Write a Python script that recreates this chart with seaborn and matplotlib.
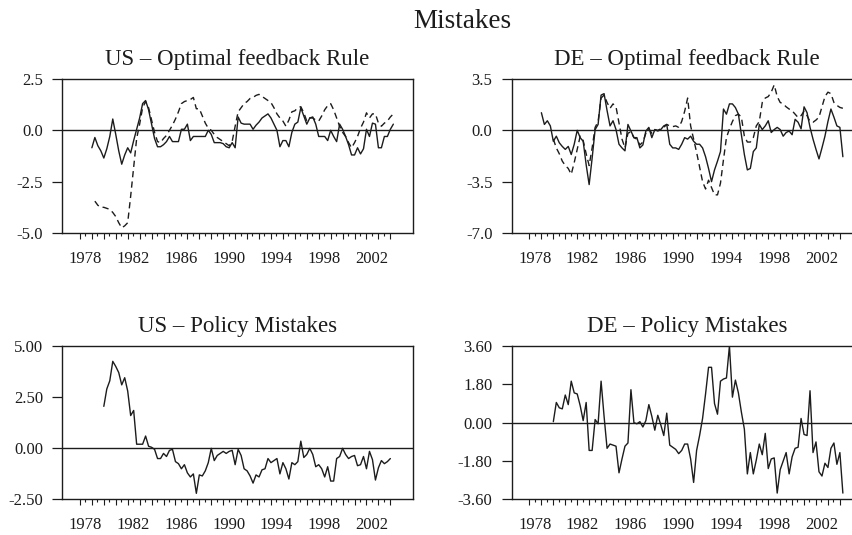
import numpy as np
import pandas as pd
import matplotlib
matplotlib.use("Agg")
import matplotlib.pyplot as plt
import seaborn as sns
from matplotlib.ticker import FixedLocator, FuncFormatter, NullFormatter

# ---------------- data (quarterly, decimal years) ----------------
us_rule_start = 1979.0
us_rule = [-0.85, -0.35, -0.75, -1.0,
           -1.35, -0.9, -0.3, 0.55,
           -0.2, -1.0, -1.65, -1.2,
           -0.85, -1.1, -0.5, 0.05,
           0.6, 1.3, 1.45, 1.0,
           0.3, -0.4, -0.8, -0.8,
           -0.7, -0.55, -0.3, -0.55,
           -0.55, -0.55, 0.05, 0.05,
           0.3, -0.5, -0.3, -0.3,
           -0.3, -0.3, -0.3, 0.0,
           -0.2, -0.6, -0.6, -0.6,
           -0.65, -0.8, -0.85, -0.6,
           -0.85, 0.65, 0.35, 0.3,
           0.3, 0.3, 0.05, 0.25,
           0.4, 0.6, 0.7, 0.8,
           0.6, 0.3, 0.0, -0.8,
           -0.5, -0.5, -0.8, -0.1,
           0.3, 0.4, 1.1, 0.7,
           0.3, 0.6, 0.65, 0.3,
           -0.3, -0.3, -0.3, -0.5,
           0.0, -0.3, -0.55, 0.3,
           0.05, -0.3, -0.7, -1.2,
           -1.2, -0.85, -1.15, -0.9,
           0.05, -0.3, 0.35, 0.3,
           -0.85, -0.85, -0.3, -0.3,
           0.05, 0.3]

us_opt_start = 1979.25
us_opt = [-3.45, -3.65, -3.75,
          -3.75, -3.8, -3.85, -4.0,
          -4.2, -4.5, -4.75, -4.65,
          -4.5, -3.2, -1.8, -0.4,
          0.3, 1.1, 1.4, 1.1,
          0.5, -0.1, -0.55, -0.6,
          -0.4, -0.25, 0.0, 0.25,
          0.55, 0.9, 1.3, 1.4,
          1.45, 1.5, 1.6, 1.05,
          1.05, 0.7, 0.35, 0.1,
          0.0, -0.2, -0.35, -0.45,
          -0.55, -0.65, -0.75, -0.55,
          0.2, 0.9, 1.1, 1.3,
          1.4, 1.55, 1.6, 1.7,
          1.75, 1.65, 1.55, 1.45,
          1.35, 1.1, 0.8, 0.6,
          0.45, 0.2, 0.5, 0.9,
          0.95, 1.1, 1.15, 0.85,
          0.45, 0.6, 0.6, 0.5,
          0.45, 0.7, 1.0, 1.2,
          1.3, 1.0, 0.6, 0.2,
          -0.1, -0.3, -0.6, -0.85,
          -0.6, -0.3, 0.1, 0.4,
          0.85, 0.6, 0.8, 0.8,
          0.35, 0.2, 0.35, 0.45,
          0.65, 0.8]

de_rule_start = 1979.0
de_rule = [1.2, 0.4, 0.65, 0.3,
           -0.75, -0.4, -0.85, -1.1,
           -1.3, -1.1, -1.65, -0.95,
           0.0, -0.5, -0.75, -2.35,
           -3.7, -1.9, 0.05, 0.4,
           2.4, 2.5, 1.35, 0.3,
           0.65, 0.05, -0.95, -1.2,
           -1.4, 0.4, -0.05, -0.5,
           -0.5, -1.2, -1.0, -0.05,
           0.2, -0.5, 0.05, -0.05,
           0.05, 0.3, 0.4, -0.95,
           -1.2, -1.2, -1.3, -0.95,
           -0.5, -0.6, -0.4, -0.75,
           -0.95, -0.95, -1.2, -1.8,
           -2.6, -3.5, -2.7, -2.1,
           -1.45, 1.45, 1.1, 1.8,
           1.8, 1.55, 1.1, -0.3,
           -1.65, -2.7, -2.6, -1.45,
           -1.2, 0.4, 0.05, 0.3,
           0.65, -0.15, 0.05, 0.2,
           0.05, -0.4, -0.15, -0.05,
           -0.3, 0.75, 0.55, 0.1,
           1.6, 1.2, 0.2, -0.6,
           -1.3, -1.95, -1.2, -0.4,
           0.6, 1.45, 0.9, 0.3,
           0.2, -1.8]

de_opt_start = 1980.0
de_opt = [-0.6, -1.2, -1.6, -2.1,
          -2.4, -2.6, -3.0, -2.2,
          -1.3, -0.4, -0.7, -1.6,
          -2.4, -1.2, 0.2, 0.6,
          2.2, 2.4, 1.9, 1.5,
          1.8, 1.6, 0.5, -0.6,
          -1.2, -0.2, -0.1, -0.5,
          -0.6, -1.0, -0.8, -0.2,
          0.1, -0.2, 0.05, 0.0,
          0.1, 0.2, 0.4, 0.3,
          0.25, 0.3, 0.2, 0.6,
          1.3, 2.2, 0.3, -0.6,
          -1.5, -2.5, -3.5, -4.0,
          -3.4, -3.9, -4.4, -4.4,
          -3.6, -2.0, -0.5, 0.1,
          0.6, 1.0, 1.1, 0.9,
          -0.4, -0.8, -0.8, -0.5,
          0.3, 0.6, 1.9, 2.2,
          2.3, 2.6, 3.1, 2.3,
          1.9, 1.8, 1.6, 1.45,
          1.33, 1.1, 0.87, 1.0,
          1.3, 1.0, 0.6, 0.55,
          0.7, 0.9, 1.6, 2.3,
          2.6, 2.5, 1.9, 1.7,
          1.56, 1.5]

us_mist_start = 1980.0
us_mist = [2.05, 2.9, 3.3, 4.25,
           4.0, 3.7, 3.1, 3.45,
           2.8, 1.6, 1.85, 0.2,
           0.2, 0.2, 0.6, 0.1,
           0.05, -0.05, -0.5, -0.5,
           -0.25, -0.4, -0.1, -0.05,
           -0.65, -0.75, -1.0, -0.8,
           -1.2, -1.4, -1.25, -2.2,
           -1.3, -1.35, -1.1, -0.7,
           0.0, -0.6, -0.35, -0.25,
           -0.15, -0.25, -0.15, -0.1,
           -0.8, -0.05, -0.35, -1.0,
           -1.1, -1.35, -1.7, -1.3,
           -1.4, -1.05, -1.0, -0.5,
           -0.7, -0.6, -0.5, -1.25,
           -0.7, -1.0, -1.5, -0.7,
           -0.8, -0.65, 0.35, -0.45,
           -0.3, 0.0, -0.3, -0.9,
           -0.8, -1.0, -1.4, -0.9,
           -1.6, -1.6, -0.5, -0.4,
           0.0, -0.3, -0.5, -0.4,
           -0.35, -0.85, -0.8, -0.4,
           -1.0, -0.15, -0.55, -1.55,
           -0.95, -0.6, -0.75, -0.65,
           -0.5]

de_mist_start = 1980.0
de_mist = [0.05, 0.95, 0.7, 0.65,
           1.3, 0.85, 1.95, 1.4,
           1.35, 0.8, 0.1, 0.95,
           -1.3, -1.3, 0.15, -0.05,
           1.95, 0.3, -1.2, -1.0,
           -1.05, -1.1, -2.35, -1.7,
           -1.1, -0.95, 1.55, 0.0,
           -0.05, 0.05, -0.2, 0.1,
           0.85, 0.3, -0.35, 0.35,
           -0.1, -0.6, 0.45, -1.05,
           -1.15, -1.25, -1.45, -1.3,
           -1.0, -1.0, -1.7, -2.8,
           -1.3, -0.6, 0.2, 1.35,
           2.6, 2.6, 0.9, 0.4,
           1.95, 2.05, 2.1, 3.6,
           1.2, 2.0, 1.4, 0.5,
           -0.3, -2.4, -1.4, -2.4,
           -1.75, -1.0, -1.5, -0.5,
           -2.15, -1.7, -1.65, -3.3,
           -2.2, -1.8, -1.4, -2.4,
           -1.6, -1.2, -1.15, 0.2,
           -0.55, -0.6, 1.5, -1.4,
           -0.9, -2.3, -2.5, -1.9,
           -2.1, -1.2, -0.95, -1.95,
           -1.4, -3.3]

titles = ["US \u2013 Optimal feedback Rule", "DE \u2013 Optimal feedback Rule",
          "US \u2013 Policy Mistakes", "DE \u2013 Policy Mistakes"]
yticks_us_top = [-5.0, -2.5, 0.0, 2.5]
yticks_de_top = [-7.0, -3.5, 0.0, 3.5]
yticks_us_bot = [-2.5, 0.0, 2.5, 5.0]
yticks_de_bot = [-3.6, -1.8, 0.0, 1.8, 3.6]
year_labels = [1978, 1982, 1986, 1990, 1994, 1998, 2002]
suptitle = "Mistakes"


def frame(start, values, name):
    yrs = start + 0.25 * np.arange(len(values))
    return pd.DataFrame({"year": yrs, "value": values, "series": name})


# ---------------- styling ----------------
sns.set_theme(style="ticks")
plt.rcParams['font.family'] = ['Liberation Serif', 'DejaVu Serif']
ink = "#1c1c1c"
plt.rcParams['text.color'] = ink

fig = plt.figure(figsize=(8.52, 5.35), dpi=100)
W = 0.412
boxes = [
    [0.0728, 0.5645, W, 0.2879],
    [0.6004, 0.5645, W, 0.2879],
    [0.0728, 0.0664, W, 0.2869],
    [0.6004, 0.0664, W, 0.2869],
]

panels = [
    (pd.concat([frame(us_rule_start, us_rule, "rule"), frame(us_opt_start, us_opt, "optimal")]),
     yticks_us_top, "{:.1f}"),
    (pd.concat([frame(de_rule_start, de_rule, "rule"), frame(de_opt_start, de_opt, "optimal")]),
     yticks_de_top, "{:.1f}"),
    (frame(us_mist_start, us_mist, "rule"), yticks_us_bot, "{:.2f}"),
    (frame(de_mist_start, de_mist, "rule"), yticks_de_bot, "{:.2f}"),
]

for box, title, (df, yt, fmt) in zip(boxes, titles, panels):
    ax = fig.add_axes(box)
    styles = [s for s in ["rule", "optimal"] if s in df["series"].unique()]
    dashes = {"rule": "", "optimal": (4.5, 3)}
    sns.lineplot(data=df, x="year", y="value", style="series", style_order=styles,
                 dashes={k: dashes[k] for k in styles}, color=ink, linewidth=1.0,
                 estimator=None, sort=False, legend=False, ax=ax)
    ax.axhline(0, color=ink, linewidth=1.0, zorder=1)
    ax.set_xlim(1976.5, 2005.9)
    ax.set_ylim(yt[0], yt[-1])
    ax.set_yticks(yt)
    ax.set_yticklabels([fmt.format(v) for v in yt])
    ax.set_xlabel("")
    ax.set_ylabel("")
    # x ticks: long at years, short at half-years carrying labels
    ax.xaxis.set_major_locator(FixedLocator(np.arange(1978, 2005)))
    ax.xaxis.set_major_formatter(NullFormatter())
    ax.xaxis.set_minor_locator(FixedLocator(np.arange(1978.45, 2004.0, 1.0)))
    ax.xaxis.set_minor_formatter(FuncFormatter(
        lambda v, p: str(int(round(v - 0.45))) if int(round(v - 0.45)) in year_labels else ""))
    ax.tick_params(axis="x", which="major", length=4.2, width=0.8, color=ink, direction="out")
    ax.tick_params(axis="x", which="minor", length=2.2, width=0.8, color=ink, direction="out",
                   pad=10.5, labelsize=12, labelcolor=ink)
    ax.tick_params(axis="y", which="major", length=7.2, width=0.9, color=ink, direction="out",
                   pad=6.5, labelsize=12, labelcolor=ink)
    for sp in ax.spines.values():
        sp.set_visible(True)
        sp.set_color(ink)
        sp.set_linewidth(1.0)
    ax.set_title(title, fontsize=16.5, pad=10, color=ink)

fig.text(462 / 852, 1 - 21 / 535, suptitle, ha="center", va="center", fontsize=19.5, color=ink)

fig.savefig("out.png", dpi=100, facecolor="white")
